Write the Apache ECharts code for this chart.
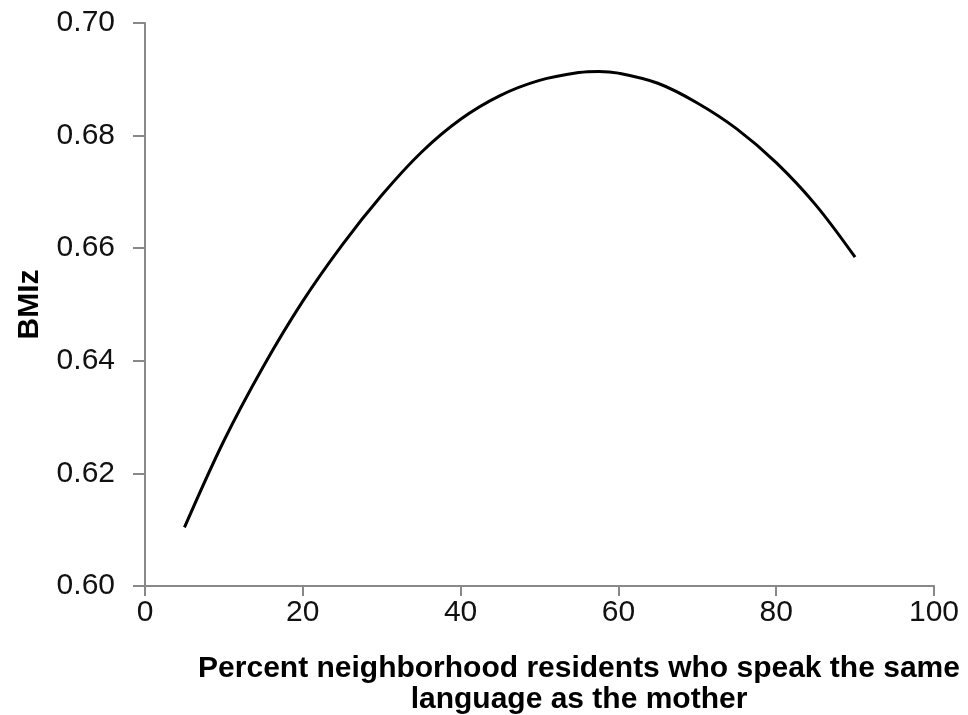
<!DOCTYPE html>
<html>
<head>
<meta charset="UTF-8">
<title>BMIz</title>
<script src="https://cdn.jsdelivr.net/npm/echarts@6/dist/echarts.min.js"></script>
<style>
  html, body { margin: 0; padding: 0; background: #fff; }
  #chart { width: 968px; height: 715px; }
</style>
</head>
<body>
<div id="chart"></div>
<script>
// values
var pctSameLanguage = [5, 10, 15, 20, 25, 30, 35, 40, 45, 50, 55, 57.5, 60, 65, 70, 75, 80, 85, 90];
var bmiz = [0.6104, 0.6258, 0.6390, 0.6506, 0.6606, 0.6694, 0.6770, 0.6829, 0.6871, 0.6898, 0.6912, 0.6914, 0.6911, 0.6893, 0.6858, 0.6812, 0.6752, 0.6677, 0.6584];
var xTicks = [0, 20, 40, 60, 80, 100];
var yTicks = [0.60, 0.62, 0.64, 0.66, 0.68, 0.70];

var pts = [];
for (var i = 0; i < pctSameLanguage.length; i++) {
  pts.push([pctSameLanguage[i], bmiz[i]]);
}

var font = 'Liberation Sans, Arial, sans-serif';
var chart = echarts.init(document.getElementById('chart'));
chart.setOption({
  animation: false,
  backgroundColor: '#fff',
  title: [{
    text: 'Percent neighborhood residents who speak the same\nlanguage as the mother',
    left: 574,
    top: 648,
    textAlign: 'center',
    textStyle: { fontFamily: font, fontWeight: 'bold', fontSize: 30, color: '#000', lineHeight: 31 }
  }],
  grid: { left: 145, right: 34, top: 23, bottom: 129 },
  xAxis: {
    type: 'value',
    min: xTicks[0],
    max: xTicks[xTicks.length - 1],
    interval: 20,
    axisLine: { lineStyle: { color: '#888', width: 2 } },
    axisTick: { length: 10, lineStyle: { color: '#888', width: 2 } },
    splitLine: { show: false },
    axisLabel: { margin: 12, fontFamily: font, fontSize: 30, color: '#111' }
  },
  yAxis: {
    type: 'value',
    min: yTicks[0],
    max: yTicks[yTicks.length - 1],
    interval: 0.02,
    name: 'BMIz',
    nameLocation: 'middle',
    nameRotate: 90,
    nameGap: 100,
    nameTextStyle: { fontFamily: font, fontWeight: 'bold', fontSize: 30, color: '#000' },
    axisLine: { show: true, lineStyle: { color: '#888', width: 2 } },
    axisTick: { show: true, length: 12, lineStyle: { color: '#888', width: 2 } },
    splitLine: { show: false },
    axisLabel: {
      margin: 30, fontFamily: font, fontSize: 30, color: '#111',
      formatter: function (v) { return v.toFixed(2); }
    }
  },
  series: [{
    type: 'line',
    data: pts,
    smooth: 0.35,
    showSymbol: false,
    lineStyle: { color: '#000', width: 3 }
  }]
});
</script>
</body>
</html>
